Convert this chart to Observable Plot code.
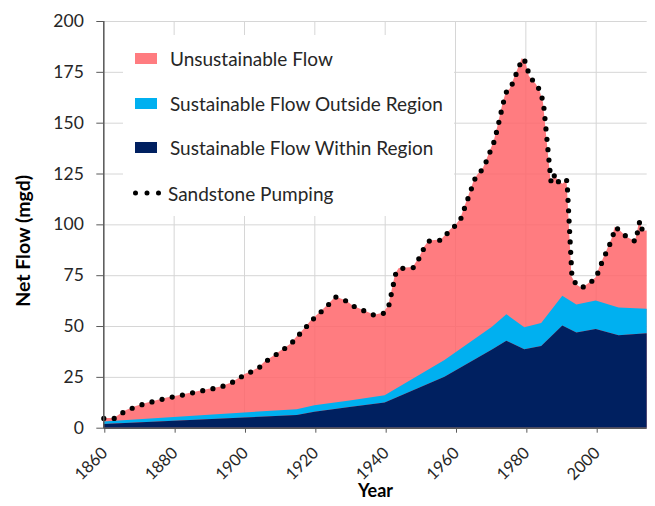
<!DOCTYPE html>
<html>
<head>
<meta charset="utf-8">
<script src="https://cdn.jsdelivr.net/npm/d3@7"></script>
<script src="https://cdn.jsdelivr.net/npm/@observablehq/plot@0.6"></script>
<style>
  html, body { margin: 0; padding: 0; background: #fff; }
  #wrap { position: relative; width: 655px; height: 506px; font-family: Lato, "Open Sans", sans-serif; }
  #legend { position: absolute; left: 123px; top: 35px; width: 331px; height: 181px; background: #fff; }
  .lrow { position: absolute; left: 12px; height: 22px; display: flex; align-items: center; font-size: 19px; color: #262626; white-space: nowrap; }
  .sw { width: 22px; height: 11px; margin-right: 13px; }
  #wrap svg text { fill: #262626; }
  #wrap svg [aria-label="text"] text { font-weight: bold; fill: #000; }
</style>
</head>
<body>
<div id="wrap"></div>
<script>
// Sandstone pumping (mgd), by year
const pumpYears = [1860, 1863, 1866, 1869, 1872, 1875, 1878, 1881, 1884, 1887, 1890, 1893, 1896, 1898,
  1900, 1902, 1904, 1906, 1908, 1911, 1913, 1915, 1917, 1919, 1921, 1923, 1926, 1929, 1931, 1934, 1937,
  1939.5, 1941, 1942, 1943, 1944, 1948, 1950, 1951, 1952.5, 1956, 1958, 1960.5, 1961.5, 1965.5, 1967, 1968,
  1971, 1972, 1973.5, 1974.5, 1975.5, 1978, 1979, 1980, 1981, 1983, 1984, 1985, 1987.2, 1988.3, 1989.2,
  1990.6, 1991.7, 1993.1, 1994.3, 1995.8, 1997.5, 2000, 2001, 2004.5, 2005.4, 2006.6, 2008.8, 2011.2,
  2012.4, 2013.2, 2014.5];
const pumping = [4.8, 4.8, 8.3, 10.5, 12.2, 13.5, 14.8, 15.8, 16.9, 18.1, 19.1, 20.1, 22, 24,
  26.3, 27.8, 29.5, 32.8, 35, 38.7, 41, 45, 48.7, 52.8, 56, 59.2, 64.5, 62.5, 60, 57.7, 55.5,
  56.5, 60, 68, 76, 78.5, 79, 84.5, 88.5, 92, 92.5, 96.5, 100.5, 103, 122.5, 126, 128,
  141, 148, 159.5, 165.5, 166.5, 177.5, 181.8, 180, 173, 169, 166, 160, 120.5, 125, 121.3,
  120, 122, 74.5, 70.7, 69, 70.5, 74, 79, 93, 98.8, 97.5, 93.8, 91.8,
  102, 96.8, 97];

// Sustainable flow (mgd), by year
const sustYears = [1860, 1900, 1915, 1920, 1930, 1940, 1957, 1970.5, 1974.6, 1979.7, 1984.5, 1990.5,
  1994.5, 2000, 2006.5, 2014.5];
const withinRegion = [1.8, 5.0, 6.3, 7.9, 10.2, 12.4, 25.1, 38.4, 42.8, 38.6, 40.2, 50.3,
  46.8, 48.5, 45.5, 46.5];
const outsideRegion = [1.2, 2.5, 2.8, 3.2, 3.2, 3.5, 8.2, 11.2, 13.0, 10.8, 11.3, 14.6,
  13.8, 14.0, 13.6, 12.0];

const xTicks = [1860, 1880, 1900, 1920, 1940, 1960, 1980, 2000];
const yTicks = [0, 25, 50, 75, 100, 125, 150, 175, 200];

const seriesNames = ["Unsustainable Flow", "Sustainable Flow Outside Region", "Sustainable Flow Within Region", "Sandstone Pumping"];
const seriesColors = ["#ff7c80", "#00b0f0", "#002060", "#000000"];

const pump = pumpYears.map((year, i) => ({year, value: pumping[i]}));
const sust = sustYears.map((year, i) => ({year, within: withinRegion[i], total: withinRegion[i] + outsideRegion[i]}));

const chart = Plot.plot({
  width: 655,
  height: 506,
  marginLeft: 103.3,
  marginRight: 8.3,
  marginTop: 21,
  marginBottom: 78.3,
  x: {domain: [1860, 2014.5]},
  y: {domain: [0, 200]},
  style: {fontFamily: "Lato, 'Open Sans', sans-serif", fontSize: "17.5px", color: "#262626", background: "#fff"},
  marks: [
    Plot.gridX(xTicks, {stroke: "#d6d6d6", strokeOpacity: 1}),
    Plot.gridY(yTicks, {stroke: "#d6d6d6", strokeOpacity: 1}),
    Plot.areaY(pump, {x: "year", y: "value", fill: "#ff656a", fillOpacity: 0.85}),
    Plot.areaY(sust, {x: "year", y1: "within", y2: "total", fill: seriesColors[1]}),
    Plot.areaY(sust, {x: "year", y: "within", fill: seriesColors[2]}),
    Plot.line(pump, {x: "year", y: "value", stroke: "#000", strokeWidth: 5.2, strokeDasharray: "0,10.4", strokeLinecap: "round"}),
    Plot.ruleX([1860], {stroke: "#595959", strokeWidth: 1.5}),
    Plot.ruleY([0], {stroke: "#595959", strokeWidth: 1.5}),
    Plot.axisY(yTicks, {tickSize: 7, tickPadding: 13, stroke: "#595959", label: null, fontSize: 17.5}),
    Plot.axisX(xTicks, {tickSize: 5, tickPadding: 17, dx: 1, tickRotate: -45, stroke: "#595959", label: null, fontSize: 16.5, tickFormat: d => String(d)}),
    Plot.text(["Net Flow (mgd)"], {frameAnchor: "left", textAnchor: "middle", rotate: -90, dx: -80, dy: 16, fontSize: 19.5}),
    Plot.text(["Year"], {frameAnchor: "bottom", dy: 69, fontSize: 18})
  ]
});

const wrap = document.getElementById("wrap");
wrap.appendChild(chart);

// legend
const legend = document.createElement("div");
legend.id = "legend";
const rowTops = [12, 57, 101.5, 147];
seriesNames.forEach((name, i) => {
  const row = document.createElement("div");
  row.className = "lrow";
  row.style.top = rowTops[i] + "px";
  let sw;
  if (i < 3) {
    sw = document.createElement("div");
    sw.className = "sw";
    sw.style.background = seriesColors[i];
  } else {
    sw = document.createElementNS("http://www.w3.org/2000/svg", "svg");
    sw.setAttribute("width", 28);
    sw.setAttribute("height", 10);
    sw.style.marginRight = "7px";
    sw.style.marginLeft = "-2px";
    const ln = document.createElementNS("http://www.w3.org/2000/svg", "line");
    ln.setAttribute("x1", 2.5); ln.setAttribute("x2", 26); ln.setAttribute("y1", 5); ln.setAttribute("y2", 5);
    ln.setAttribute("stroke", "#000"); ln.setAttribute("stroke-width", 5);
    ln.setAttribute("stroke-linecap", "round"); ln.setAttribute("stroke-dasharray", "0,11.5");
    sw.appendChild(ln);
  }
  row.appendChild(sw);
  const t = document.createElement("span");
  t.textContent = name;
  row.appendChild(t);
  legend.appendChild(row);
});
wrap.appendChild(legend);
</script>
</body>
</html>
